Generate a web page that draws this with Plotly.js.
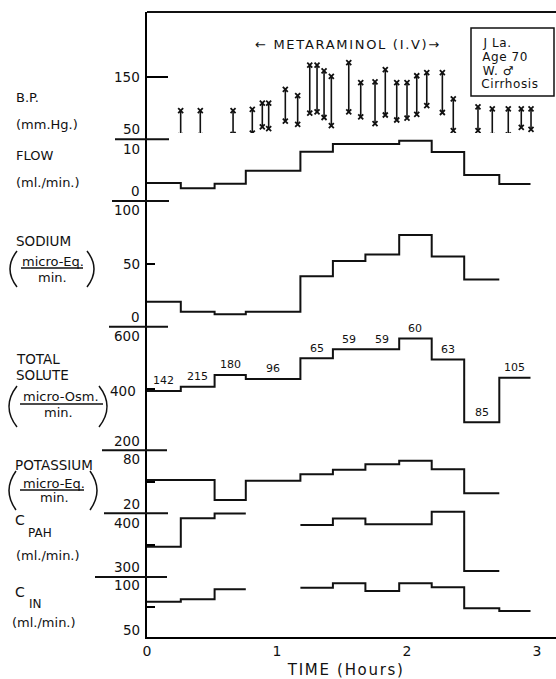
<!DOCTYPE html>
<html><head><meta charset="utf-8">
<script src="https://cdn.plot.ly/plotly-3.0.1.min.js"></script>
<style>html,body{margin:0;padding:0;background:#fff;}#chart{width:556px;height:679px;}</style>
</head><body><div id="chart"></div>
<script>
// ---------- DATA ----------
// collection-period boundaries (hours)
const periodEdges = [0, 0.26, 0.52, 0.76, 1.18, 1.43, 1.68, 1.94, 2.19, 2.44, 2.71, 2.95];
const flow        = [2.9, 2.05, 2.8, 4.9, 8.0, 9.25, 9.25, 9.75, 7.95, 4.2, 2.75];
const sodium      = [19.8, 11.8, 10.0, 11.8, 40.2, 52.2, 57.5, 72.9, 55.9, 37.6];
const totalSolute = [392, 406, 444, 431, 498, 527, 527, 562, 494, 291, 435];
const soluteLabels = ['142','215','180','96','65','59','59','60','63','85','105'];
const potassium   = [51.7, 51.7, 32.7, 51, 57.1, 61.5, 66.7, 70.1, 61.9, 39];
const cPAH        = [347.6, 392.2, 399.5, null, 381.6, 392, 382.7, 382.7, 402.5, 309.4];
const cIN         = [79.4, 81.4, 89.7, null, 91.1, 94.7, 88.3, 94.7, 91.4, 73.9, 71.7];
// blood pressure readings
const bpTime      = [0.259,0.410,0.662,0.810,0.887,0.936,1.064,1.159,1.252,1.308,1.362,1.418,1.552,1.644,1.754,1.833,1.921,2.000,2.075,2.152,2.272,2.356,2.546,2.656,2.779,2.879,2.954];
const bpSystolic  = [96,96,96,98,108,108,130,120,169,169,160,151,173,141,142,162,141,141,152,157,157,115,102,99,99,99,99];
const bpDiastolic = [56,56,58,60,70,67,79,74,92,94,85,72,94,86,75,89,81,84,90,104,93,64,64,56,57,69,66];
// axis tick labels
const xTickVals = [0,1,2,3];
const xTickText = ['0','1','2','3'];
const bpTicks = [150, 50], flowTicks = [10, 0], sodiumTicks = [100, 50, 0], soluteTicks = [600, 400, 200],
      potTicks = [80, 20], pahTicks = [400, 300], inTicks = [100, 50];

// ---------- helpers ----------
const PL = 147, PR = 556, PT = 12, PB = 637;
const px2x = px => (px - PL) / (PR - PL);
const py2y = py => (PB - py) / (PB - PT);
const FONT = 'DejaVu Sans, Liberation Sans, Arial, sans-serif';

function stepXY(edges, vals) {
  const x = [], y = [];
  let i = 0;
  while (i < vals.length) {
    if (vals[i] === null) { i++; continue; }
    let j = i;
    while (j < vals.length && vals[j] !== null) { x.push(edges[j]); y.push(vals[j]); j++; }
    x.push(edges[j]); y.push(vals[j - 1]);
    x.push(null); y.push(null);
    i = j;
  }
  return {x, y};
}
// axis whose values map: topVal->topPx, botVal->botPx ; domain in px [a,b]
function panelAxis(topPx, botPx, topVal, botVal, a, b, tickvals, ticklen) {
  const k = (topVal - botVal) / (botPx - topPx);
  return {
    domain: [py2y(b), py2y(a)],
    range: [botVal - (b - botPx) * k, topVal + (topPx - a) * k],
    anchor: 'x', showline: true, linecolor: '#000', linewidth: 2,
    showgrid: false, zeroline: false, showticklabels: false,
    ticks: tickvals.length ? 'inside' : '', tickvals: tickvals, ticklen: ticklen,
    tickwidth: 2, tickcolor: '#000', fixedrange: true
  };
}

const black = '#111';
function stepTrace(vals, yaxis) {
  const s = stepXY(periodEdges, vals);
  return {x: s.x, y: s.y, yaxis: yaxis, type: 'scatter', mode: 'lines',
          line: {shape: 'hv', color: black, width: 2}, hoverinfo: 'skip'};
}
const bx = [], by = [];
bpTime.forEach((t, i) => { bx.push(t, t, null); by.push(bpDiastolic[i], bpSystolic[i], null); });

const traces = [
  {x: bx, y: by, yaxis: 'y', type: 'scatter', mode: 'lines+markers',
   line: {color: black, width: 1.6},
   marker: {symbol: 'x-thin', size: 5, color: black, line: {width: 1.8, color: black}}, hoverinfo: 'skip'},
  stepTrace(flow, 'y2'),
  stepTrace(sodium, 'y3'),
  stepTrace(totalSolute, 'y4'),
  stepTrace(potassium, 'y5'),
  stepTrace(cPAH, 'y6'),
  stepTrace(cIN, 'y7')
];

const ann = [];
function txt(text, px, py, size, anchor) {
  ann.push({text: text, xref: 'paper', yref: 'paper', x: px2x(px), y: py2y(py),
            xanchor: anchor || 'left', yanchor: 'middle', showarrow: false,
            font: {family: FONT, size: size || 13, color: black}});
}
function tickLab(yref, val, shift, right) {
  ann.push({text: String(val), xref: 'paper', yref: yref, x: px2x(right || 142), y: val, yshift: shift,
            xanchor: 'right', yanchor: 'middle', showarrow: false,
            font: {family: FONT, size: 13.5, color: black}});
}
// tick labels on the value axes
tickLab('y', bpTicks[0], 0); tickLab('y', bpTicks[1], 10);
tickLab('y2', flowTicks[0], -10); tickLab('y2', flowTicks[1], 10);
tickLab('y3', sodiumTicks[0], -9); tickLab('y3', sodiumTicks[1], 0); tickLab('y3', sodiumTicks[2], 10);
tickLab('y4', soluteTicks[0], -9); tickLab('y4', soluteTicks[1], -2, 138); tickLab('y4', soluteTicks[2], 9);
tickLab('y5', potTicks[0], -9); tickLab('y5', potTicks[1], 9);
tickLab('y6', pahTicks[0], -10); tickLab('y6', pahTicks[1], 10);
tickLab('y7', inTicks[0], -8); tickLab('y7', inTicks[1], 7);

// values written above the total-solute steps
soluteLabels.forEach((s, i) => {
  ann.push({text: s, xref: 'x', yref: 'y4', x: (periodEdges[i] + periodEdges[i + 1]) / 2, y: totalSolute[i],
            yshift: 10, xanchor: 'center', yanchor: 'middle', showarrow: false,
            font: {family: FONT, size: 11, color: black}});
});

// left-hand panel titles
txt('B.P.', 14, 98); txt('(mm.Hg.)', 14, 124);
txt('FLOW', 14, 155); txt('(ml./min.)', 14, 182);
txt('SODIUM', 14, 241, 13.5); txt('micro-Eq.', 53, 261, 13, 'center'); txt('min.', 52, 277, 13, 'center');
txt('TOTAL', 14, 359, 13.5); txt('SOLUTE', 14, 375, 13.5);
txt('micro-Osm.', 61, 396, 13, 'center'); txt('min.', 58, 412, 13, 'center');
txt('POTASSIUM', 13, 465, 13.5); txt('micro-Eq.', 54, 483, 13, 'center'); txt('min.', 54, 497, 13, 'center');
txt('C', 13, 520, 14); txt('PAH', 26, 533, 12);
txt('(ml./min.)', 14, 555);
txt('C', 13, 592, 14); txt('IN', 27, 604, 12);
txt('(ml./min.)', 10, 622);
// top annotations (letter-spaced afterwards, centred)
txt('← METARAMINOL (I.V)→', 347.5, 44, 13, 'center');
txt('J La.', 482, 43, 12); txt('Age 70', 482, 57, 12); txt('W. ♂', 482, 70.5, 12); txt('Cirrhosis', 482, 84, 12);
// x title
txt('TIME (Hours)', 345.5, 670, 15, 'center');

// shapes
const shapes = [];
function line(x0, y0, x1, y1, w) {
  shapes.push({type: 'line', xref: 'paper', yref: 'paper', x0: px2x(x0), y0: py2y(y0), x1: px2x(x1), y1: py2y(y1),
               line: {color: black, width: w || 2}});
}
function paren(xEnd, xMid, yTop, yBot) {
  const P = (a, b) => px2x(a) + ',' + py2y(b);
  const ctrl = 2 * xMid - xEnd;
  shapes.push({type: 'path', xref: 'paper', yref: 'paper',
               path: 'M ' + P(xEnd, yTop) + ' Q ' + P(ctrl, (yTop + yBot) / 2) + ' ' + P(xEnd, yBot),
               line: {color: black, width: 1.5}});
}
line(PL, PT, PR, PT, 2);                // top frame
line(115, 139.3, 169, 139.3);           // panel separators
line(112, 201, 169, 201);
line(109, 326.7, 168, 326.7);
line(102, 450.3, 167, 450.3);
line(104, 513.3, 168, 513.3);
line(95, 577, 167, 577);
// fraction bars
line(21, 268, 83, 268, 1.5);
line(20, 404, 103, 404, 1.5);
line(20, 490, 84, 490, 1.5);
// parentheses
paren(17, 10, 251, 287); paren(87, 94, 251, 287);
paren(17, 9, 386, 427); paren(99, 107, 386, 427);
paren(16, 9, 471, 510); paren(90, 97, 471, 510);
// legend box
shapes.push({type: 'rect', xref: 'paper', yref: 'paper', x0: px2x(471), x1: px2x(554), y0: py2y(96), y1: py2y(28),
             line: {color: black, width: 1.5}});

const layout = {
  width: 556, height: 679,
  margin: {l: PL, r: 0, t: PT, b: 679 - PB, pad: 0},
  paper_bgcolor: '#fff', plot_bgcolor: '#fff', showlegend: false,
  font: {family: FONT, color: black},
  xaxis: {range: [0, (PR - PL) / 130], anchor: 'y7', tickvals: xTickVals, ticktext: xTickText,
          ticks: '', showline: true, linewidth: 2, linecolor: '#000', showgrid: false, zeroline: false,
          tickfont: {family: FONT, size: 14, color: black}, fixedrange: true},
  yaxis:  panelAxis(77, 139.3, 150, 50, 12, 145, [150], 21),
  yaxis2: panelAxis(139.3, 201, 10, 0, 133, 207, [], 0),
  yaxis3: panelAxis(201, 326.7, 100, 0, 195, 332, [50], 8),
  yaxis4: panelAxis(326.7, 450.3, 600, 200, 320, 456, [400], 8),
  yaxis5: panelAxis(450.3, 513.3, 80, 20, 444, 519, [50], 8),
  yaxis6: panelAxis(513.3, 577, 400, 300, 507, 583, [350], 8),
  yaxis7: panelAxis(577, 637, 100, 50, 571, 637, [75], 8),
  annotations: ann, shapes: shapes
};
Plotly.newPlot('chart', traces, layout, {staticPlot: true, displayModeBar: false}).then(() => {
  document.querySelectorAll('#chart .annotation-text').forEach(el => {
    const t = el.textContent;
    if (t.indexOf('METARAMINOL') >= 0) el.style.letterSpacing = '1.7px';
    else if (t.indexOf('TIME') >= 0) el.style.letterSpacing = '1.7px';
    else if (/^(J La\.|Age 70|Cirrhosis|W\. ♂)$/.test(t)) el.style.letterSpacing = '0.6px';
  });
});
</script>
</body></html>
